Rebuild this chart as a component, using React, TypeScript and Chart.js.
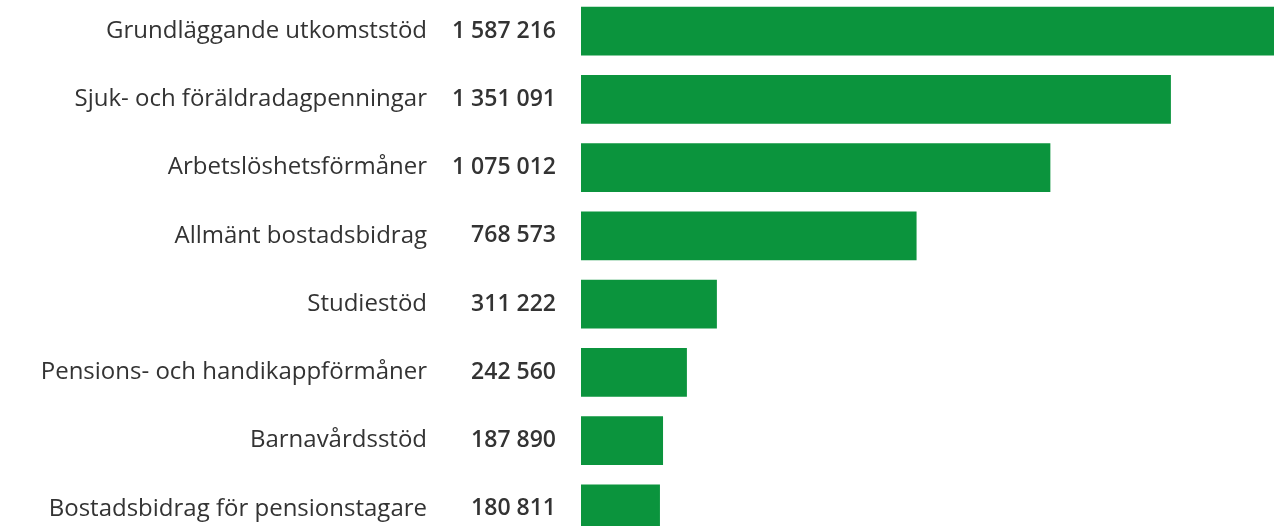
import React, { useEffect, useRef } from "react";
import { Chart, registerables } from "chart.js";

Chart.register(...registerables);

const categories: string[] = [
  "Grundläggande utkomststöd",
  "Sjuk- och föräldradagpenningar",
  "Arbetslöshetsförmåner",
  "Allmänt bostadsbidrag",
  "Studiestöd",
  "Pensions- och handikappförmåner",
  "Barnavårdsstöd",
  "Bostadsbidrag för pensionstagare",
];

const values: number[] = [1587216, 1351091, 1075012, 768573, 311222, 242560, 187890, 180811];

const formatValue = (v: number): string =>
  String(v).replace(/\B(?=(\d{3})+(?!\d))/g, " ");

const valueLabels: string[] = values.map(formatValue);

const BAR_COLOR = "#0b943d";
const TEXT_COLOR = "#333333";
const FONT_FAMILY = "'Open Sans', 'Noto Sans', sans-serif";

export default function App() {
  const canvasRef = useRef<HTMLCanvasElement | null>(null);

  useEffect(() => {
    if (!canvasRef.current) return;
    const chart = new Chart(canvasRef.current, {
      type: "bar",
      data: {
        labels: categories,
        datasets: [
          {
            data: values,
            backgroundColor: BAR_COLOR,
            borderWidth: 0,
            barPercentage: 0.711,
            categoryPercentage: 1,
            yAxisID: "y",
            xAxisID: "x",
          },
        ],
      },
      options: {
        indexAxis: "y",
        animation: false,
        responsive: true,
        maintainAspectRatio: false,
        layout: { padding: { left: 0, right: 13, top: 0, bottom: 0 } },
        plugins: {
          legend: { display: false },
          tooltip: { enabled: false },
        },
        scales: {
          x: {
            display: false,
            min: 0,
            max: values[0],
          },
          y: {
            type: "category",
            position: "left",
            weight: 1,
            offset: true,
            grid: { display: false, drawTicks: false },
            border: { display: false },
            ticks: {
              color: TEXT_COLOR,
              padding: 13,
              font: { family: FONT_FAMILY, size: 24, weight: "normal" },
            },
            afterFit: (s: any) => {
              s.width = 440;
              s.paddingTop = 0;
              s.paddingBottom = 0;
            },
          },
          y2: {
            type: "category",
            labels: valueLabels,
            position: "left",
            weight: 0,
            offset: true,
            grid: { display: false, drawTicks: false },
            border: { display: false },
            ticks: {
              color: TEXT_COLOR,
              padding: 25,
              font: { family: FONT_FAMILY, size: 23, weight: "600" },
            },
            afterFit: (s: any) => {
              s.width = 141;
              s.paddingTop = 0;
              s.paddingBottom = 0;
            },
          },
        },
      },
    });
    return () => chart.destroy();
  }, []);

  return (
    <div
      style={{
        position: "absolute",
        top: -3,
        left: 0,
        width: 1287,
        height: 546,
        background: "#ffffff",
      }}
    >
      <canvas ref={canvasRef} />
    </div>
  );
}
